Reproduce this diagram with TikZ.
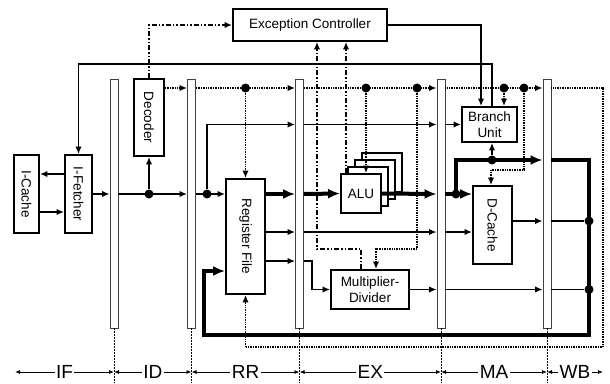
\documentclass[tikz,border=0pt]{standalone}
\usepackage{fontspec}
\setmainfont{Liberation Sans}
\usetikzlibrary{arrows.meta}
\begin{document}
\begin{tikzpicture}[x=1pt,y=-1pt,
    unit/.style={draw, line width=1.9pt, fill=white, inner sep=0pt, align=center, font=\fontsize{13.5}{15.5}\selectfont},
    preg/.style={draw=black!75, line width=0.9pt, fill=white, minimum width=8pt, minimum height=249pt, inner sep=0pt},
    joint/.style={circle, fill=black, inner sep=0pt, minimum size=9pt},
    wire/.style={line width=1.8pt, -{Latex[length=7.5pt,width=6.5pt]}},
    bus/.style={line width=4pt, -{Latex[length=12pt,width=10pt]}},
    ctrl/.style={line width=1.8pt, dash pattern=on 1pt off 0.7pt, -{Latex[length=7.5pt,width=6.5pt]}},
    excp/.style={line width=1.8pt, dash pattern=on 5pt off 2pt on 1.5pt off 2pt on 1.5pt off 2pt, -{Latex[length=7.5pt,width=6.5pt]}},
    bound/.style={line width=0.8pt, dash pattern=on 1.5pt off 1.5pt},
    span/.style={line width=0.8pt, {Latex[length=5pt,width=4pt]}-{Latex[length=5pt,width=4pt]}},
    stage/.style={fill=white, inner sep=1.5pt, font=\fontsize{19}{21}\selectfont},
    ]
    \useasboundingbox (0,0) rectangle (610,383);
    % define levels
    \coordinate (yfb)   at (0,64);
    \coordinate (yctl)  at (0,88);
    \coordinate (ybr)   at (0,124.5);
    \coordinate (ybus)  at (0,160);
    \coordinate (ydcc)  at (0,170);
    \coordinate (yicq)  at (0,174);
    \coordinate (ymain) at (0,194);
    \coordinate (yica)  at (0,212);
    \coordinate (ydc)   at (0,221);
    \coordinate (yopb)  at (0,232);
    \coordinate (yloop) at (0,249);
    \coordinate (yopc)  at (0,261);
    \coordinate (ywr)   at (0,271);
    \coordinate (ymd)   at (0,289.5);
    \coordinate (ywb)   at (0,335);
    \coordinate (yback) at (0,347);
    \coordinate (ystage) at (0,372);
    \coordinate (ybot)  at (0,383);
    \coordinate (xfst)  at (15,0);
    \coordinate (xrfw)  at (204,0);
    \coordinate (xmd)   at (312,0);
    \coordinate (xexa)  at (317,0);
    \coordinate (xexb)  at (346,0);
    \coordinate (xmdc)  at (361,0);
    \coordinate (xmdd)  at (376,0);
    \coordinate (xbrex) at (481,0);
    \coordinate (xdcc)  at (491,0);
    \coordinate (xbrfb) at (492,0);
    \coordinate (xwb)   at (589,0);
    \coordinate (xback) at (603,0);
    % pipeline registers
    \node[preg] (p1) at (114,203.5) {};
    \node[preg] (p2) at (191.5,203.5) {};
    \node[preg] (p3) at (299.5,203.5) {};
    \node[preg] (p4) at (441,203.5) {};
    \node[preg] (p5) at (547,203.5) {};
    % units
    \node[unit, minimum width=25pt, minimum height=78pt] (icache) at (26.5,194) {\rotatebox{-90}{I-Cache}};
    \node[unit, minimum width=27pt, minimum height=78pt] (ifetch) at (78.5,194) {\rotatebox{-90}{I-Fetcher}};
    \node[unit, minimum width=30pt, minimum height=77pt] (decoder) at (149,117.5) {\rotatebox{-90}{Decoder}};
    \node[unit, minimum width=154pt, minimum height=32pt] (exc) at (310,25) {Exception Controller};
    \node[unit, minimum width=39pt, minimum height=115pt] (regfile) at (245.5,236.5) {\rotatebox{-90}{Register File}};
    \foreach \k in {3,2,1}
        \node[unit, minimum width=40pt, minimum height=39pt] (alu\k) at (361+7*\k,193.5-7*\k) {};
    \node[unit, minimum width=40pt, minimum height=39pt] (alu) at (361,193.5) {ALU};
    \node[unit, minimum width=78pt, minimum height=39pt] (muldiv) at (370,289.5) {Multiplier-\\Divider};
    \node[unit, minimum width=55pt, minimum height=35pt] (branch) at (489.5,124.5) {Branch\\Unit};
    \node[unit, minimum width=39pt, minimum height=78pt] (dcache) at (492.5,225) {\rotatebox{-90}{D-Cache}};
    % joints
    \node[joint] (j1) at (decoder.south |- ymain) {};
    \node[joint] (j2) at (207,194) {};
    \node[joint] (j3) at (456,194) {};
    \node[joint] (j4) at (xbrfb |- ybus) {};
    \node[joint] (j5) at (xwb |- ydc) {};
    \node[joint] (j6) at (xwb |- ymd) {};
    \node[joint] (c1) at (regfile.north |- yctl) {};
    \node[joint] (c2) at (366,88) {};
    \node[joint] (c3) at (417,88) {};
    \node[joint] (c4) at (504,88) {};
    \node[joint] (c5) at (524,88) {};
    % fetch and decode
    \draw[wire] (ifetch.west |- yicq) -- (icache.east |- yicq);
    \draw[wire] (icache.east |- yica) -- (ifetch.west |- yica);
    \draw[wire] (ifetch.east |- ymain) -- (p1.west |- ymain);
    \draw[wire] (p1.east |- ymain) -- (p2.west |- ymain);
    \draw[wire] (j1) -- (decoder.south);
    \draw[wire] (p2.east |- ymain) -- (regfile.west |- ymain);
    \draw[wire] (j2) |- (p3.west |- ybr);
    \draw[wire] (p3.east |- ybr) -- (p4.west |- ybr);
    \draw[wire] (p4.east |- ybr) -- (branch.west);
    % operands
    \draw[bus] (regfile.east |- ymain) -- (p3.west |- ymain);
    \draw[bus] (p3.east |- ymain) -- (alu.west);
    \draw[wire] (regfile.east |- yopb) -- (p3.west |- yopb);
    \draw[wire] (regfile.east |- yopc) -- (p3.west |- yopc);
    \draw[wire] (p3.east |- yopb) -- (p4.west |- yopb);
    \draw[wire] (p4.east |- yopb) -- (dcache.west |- yopb);
    \draw[wire] (p3.east |- yopc) -| (xmd |- ymd) -- (muldiv.west);
    \draw[wire] (muldiv.east) -- (p4.west |- ymd);
    \draw[wire] (p4.east |- ymd) -- (p5.west |- ymd);
    \draw[line width=1.8pt] (p5.east |- ymd) -- (j6);
    % results
    \draw[bus] (alu.east) -- (p4.west |- ymain);
    \draw[bus] (p4.east |- ymain) -- (dcache.west |- ymain);
    \draw[bus] (j3.center) |- (p5.west |- ybus);
    \draw[wire] (j4) -- (j4 |- branch.south);
    \draw[wire] (dcache.east |- ydc) -- (p5.west |- ydc);
    \draw[line width=1.8pt] (p5.east |- ydc) -- (j5);
    \draw[bus] (p5.east |- ybus) -| (xwb |- ywb) -| (xrfw |- ywr) -- (regfile.west |- ywr);
    % control
    \draw[ctrl] (decoder.east |- yctl) -- (p2.west |- yctl);
    \draw[ctrl] (p2.east |- yctl) -- (p3.west |- yctl);
    \draw[ctrl] (c1) -- (regfile.north);
    \draw[ctrl] (p3.east |- yctl) -- (p4.west |- yctl);
    \draw[ctrl] (c2) -- (c2 |- alu.north);
    \draw[ctrl] (c3) |- (xmdd |- yloop) -- (xmdd |- muldiv.north);
    \draw[ctrl] (p4.east |- yctl) -- (p5.west |- yctl);
    \draw[ctrl] (c4) -- (c4 |- branch.north);
    \draw[ctrl] (c5) |- (xdcc |- ydcc) -- (xdcc |- dcache.north);
    \draw[ctrl] (p5.east |- yctl) -| (xback |- yback) -| (regfile.south);
    % exceptions
    \draw[excp] (decoder.north) |- (exc.west);
    \draw[excp] (xexb |- alu.north) -- (xexb |- exc.south);
    \draw[excp] (xmdc |- muldiv.north) |- (xexa |- yloop) -- (xexa |- exc.south);
    % branch
    \draw[wire] (exc.east) -| (xbrex |- branch.north);
    \draw[wire] (xbrfb |- branch.north) |- (ifetch.north |- yfb) -- (ifetch.north);
    % stages
    \foreach \p in {p1,p2,p3,p4,p5}
        \draw[bound] (\p.south) -- (\p.south |- ybot);
    \draw[span] (xfst |- ystage) -- node[stage] {IF} (p1.south |- ystage);
    \draw[span] (p1.south |- ystage) -- node[stage] {ID} (p2.south |- ystage);
    \draw[span] (p2.south |- ystage) -- node[stage] {RR} (p3.south |- ystage);
    \draw[span] (p3.south |- ystage) -- node[stage] {EX} (p4.south |- ystage);
    \draw[span] (p4.south |- ystage) -- node[stage] {MA} (p5.south |- ystage);
    \draw[span] (p5.south |- ystage) -- node[stage] {WB} (xback |- ystage);
\end{tikzpicture}
\end{document}
